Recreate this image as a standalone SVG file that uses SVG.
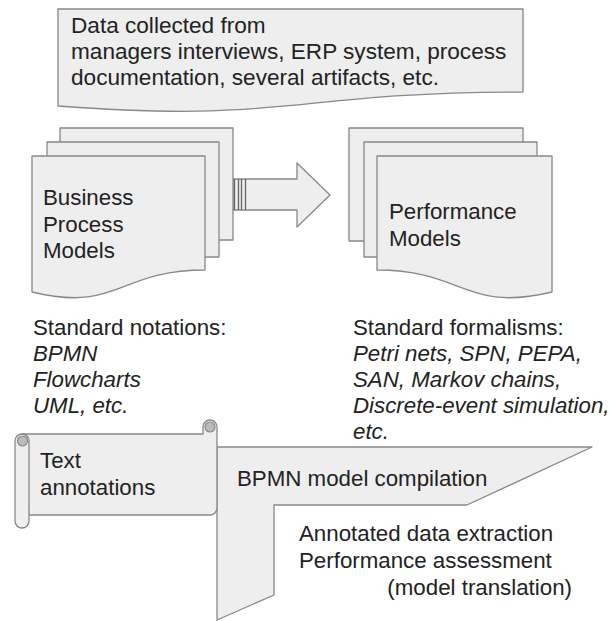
<svg xmlns="http://www.w3.org/2000/svg" width="610" height="621" viewBox="0 0 610 621">
<style>
.s{fill:#eeeeee;stroke:#888888;stroke-width:1.3;stroke-linejoin:round}
.t{font-family:"Liberation Sans",Arial,sans-serif;font-size:22.3px;fill:#222222}
.big{font-size:22.6px}
.i{font-style:italic}
</style>
<rect width="610" height="621" fill="#ffffff"/>
<g id="data-source">
<path class="s" d="M58,9 H523 V92 C290.5,92 290.5,123.6 58,106 Z"/>
<text class="t big" x="71" y="33">Data collected from</text>
<text class="t big" x="71" y="59">managers interviews, ERP system, process</text>
<text class="t big" x="71" y="85">documentation, several artifacts, etc.</text>
</g>
<g id="connectors">
<path class="s" d="M233,179 H297 V163 L330,195 L297,227 V210 H233 Z"/>
<path fill="none" stroke="#666666" stroke-width="1.3" d="M234.5,179 V210 M238.5,179 V210 M241.5,179 V210 M245.5,179 V210"/>
</g>
<g id="business-process-models">
<rect class="s" x="60" y="128" width="173" height="112"/>
<rect class="s" x="47" y="142" width="172" height="115"/>
<path class="s" d="M32,156 H205 V270 C118,270 118,313 32,292 Z"/>
<text class="t" x="43" y="205">Business</text>
<text class="t" x="43" y="231.5">Process</text>
<text class="t" x="43" y="258">Models</text>
</g>
<g id="performance-models">
<rect class="s" x="349" y="128" width="174" height="113"/>
<rect class="s" x="364" y="142" width="173" height="115"/>
<path class="s" d="M377,156 H552 V292 C464.5,313 464.5,270 377,270 Z"/>
<text class="t" x="389" y="219">Performance</text>
<text class="t" x="389" y="246">Models</text>
</g>
<g id="standard-notations">
<text class="t" x="33" y="335">Standard notations:</text>
<text class="t i" x="33" y="361">BPMN</text>
<text class="t i" x="33" y="387">Flowcharts</text>
<text class="t i" x="33" y="413">UML, etc.</text>
</g>
<g id="standard-formalisms">
<text class="t" x="353" y="335">Standard formalisms:</text>
<text class="t i" x="353" y="361">Petri nets, SPN, PEPA,</text>
<text class="t i" x="353" y="387">SAN, Markov chains,</text>
<text class="t i" x="353" y="413">Discrete-event simulation,</text>
<text class="t i" x="353" y="439">etc.</text>
</g>
<g id="bpmn-compilation">
<path class="s" d="M217,447 H592 L467,505 H274 V595 L217,620 Z"/>
<text class="t" x="237" y="486">BPMN model compilation</text>
<text class="t" x="299" y="541">Annotated data extraction</text>
<text class="t" x="299" y="568">Performance assessment</text>
<text class="t" x="572" y="595" text-anchor="end">(model translation)</text>
</g>
<g id="text-annotations">
<path class="s" d="M22,434 H203 V427 A7,7 0 0 1 217,427 V508 A7,7 0 0 1 210,515 H29 Z"/>
<rect class="s" x="15" y="434" width="14" height="94" rx="7"/>
<circle cx="22.5" cy="441" r="5" fill="#bbbbbb" stroke="#888888" stroke-width="1.2"/>
<circle cx="210" cy="427" r="5" fill="#bbbbbb" stroke="#888888" stroke-width="1.2"/>
<text class="t" x="40" y="468">Text</text>
<text class="t" x="40" y="495">annotations</text>
</g>
</svg>
